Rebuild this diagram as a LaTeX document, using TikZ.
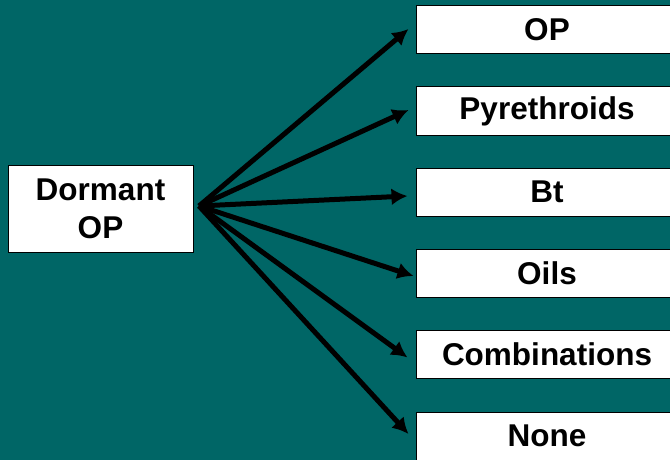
\documentclass[tikz,border=0pt]{standalone}
\usepackage{fontspec}
\setmainfont{Liberation Sans}
\usetikzlibrary{positioning,arrows.meta}
\definecolor{teal}{RGB}{0,102,102}

\begin{document}
\begin{tikzpicture}[x=1pt,y=-1pt,
  every node/.style={font=\bfseries\fontsize{31.5}{38}\selectfont},
  box/.style={draw=black,line width=1pt,fill=white,inner sep=0pt},
  choice/.style={box,minimum width=262pt,minimum height=48pt},
  link/.style={line width=5pt,-{Latex[length=16pt,width=17pt]}}]
\useasboundingbox (0,0) rectangle (670,460);
\fill[teal] (0,0) rectangle (670,460);
\clip (0,0) rectangle (670,460);
\node[box,minimum width=185pt,minimum height=87pt,align=center] (dormant) at (100.5,208.5) {Dormant\\OP};
\coordinate (hub) at (199,206);
\node[choice] (op) at (547,30) {OP};
\node[choice] (pyr) at (547,111) {Pyrethroids};
\node[choice] (bt) at (547,192) {Bt};
\node[choice] (oils) at (547,273) {Oils};
\node[choice] (comb) at (547,354.5) {Combinations};
\node[choice] (none) at (547,436) {None};
% arrow tips sit just short of each box
\foreach \b/\dx/\dy in {op/-7/1,pyr/-7/1,bt/-8/-4,oils/-2/-3,comb/-8/-3,none/-7/2}
  \draw[link] (hub) -- ([xshift=\dx pt,yshift=\dy pt]\b.west);
\end{tikzpicture}
\end{document}
